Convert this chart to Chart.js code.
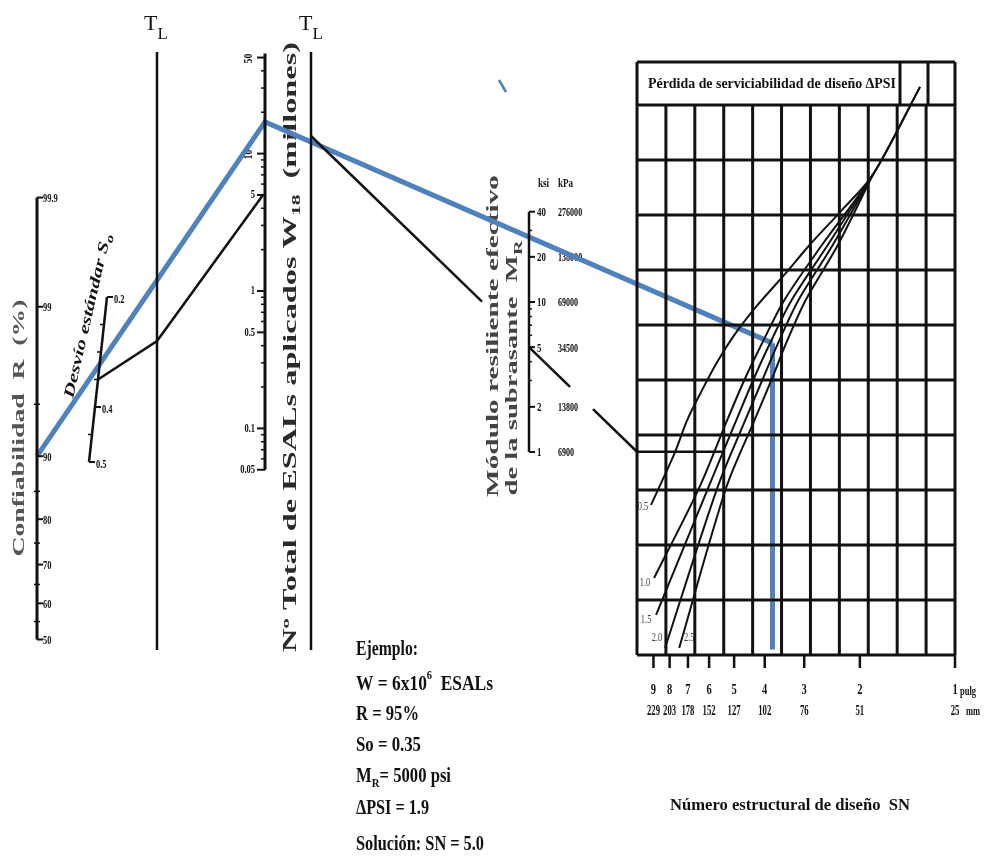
<!DOCTYPE html>
<html>
<head>
<meta charset="utf-8">
<title>Nomograma de diseño - pavimento flexible</title>
<script src="https://cdn.jsdelivr.net/npm/chart.js@4.4.1/dist/chart.umd.min.js"></script>
<style>
  html, body { margin: 0; padding: 0; background: #fff; }
  canvas { display: block; }
</style>
</head>
<body>
<canvas id="nomo" width="994" height="862"></canvas>
<script>
const relTicks = [99.9, 99, 90, 80, 70, 60, 50];
const relMinor = [95, 85, 75, 65, 55];
const sdTicks = [0.2, 0.4, 0.5];
const sdMinor = [0.25, 0.3, 0.35, 0.45];
const esalTicks = [50, 10, 5, 1, 0.5, 0.1, 0.05];
const esalMinor = [0.06, 0.07, 0.08, 0.09, 0.2, 0.3, 0.4, 0.6, 0.7, 0.8, 0.9, 2, 3, 4, 6, 7, 8, 9, 20, 30, 40];
const mrKsi = [40, 20, 10, 5, 2, 1];
const mrKpa = ['276000', '138000', '69000', '34500', '13800', '6900'];
const mrMinor = [30, 9, 8, 7, 6, 4, 3];
const snPulg = [9, 8, 7, 6, 5, 4, 3, 2, 1];
const snMm = ['229', '203', '178', '152', '127', '102', '76', '51', '25'];

// design-loss curves: SN value and height in grid rows (0 = bottom of chart)
const psiNames = ['0.5', '1.0', '1.5', '2.0', '2.5'];
const psiSN = [
  [9.16, 7.69, 7.04, 6.31, 5.65, 4.99, 4.22, 3.47, 2.89, 2.28, 1.82, 1.29],
  [8.96, 6.45, 5.26, 4.64, 4.10, 3.47, 2.64, 1.82, 1.29],
  [8.83, 6.04, 4.92, 4.35, 3.87, 3.29, 2.53, 1.82],
  [8.27, 5.65, 4.61, 4.07, 3.65, 3.13, 2.44, 1.82],
  [7.46, 5.30, 4.31, 3.81, 3.44, 2.97, 2.35, 1.82]
];
const psiRow = [
  [2.73, 3.69, 4.27, 4.82, 5.33, 5.82, 6.36, 6.91, 7.45, 8.09, 8.73, 10.33],
  [1.40, 3.04, 4.27, 5.0, 5.64, 6.45, 7.45, 8.73, 10.33],
  [0.73, 3.04, 4.27, 5.0, 5.64, 6.45, 7.45, 8.73],
  [0.13, 3.04, 4.27, 5.0, 5.64, 6.45, 7.45, 8.73],
  [0.13, 3.04, 4.27, 5.0, 5.64, 6.45, 7.45, 8.73]
];

// example drawn in black and the solution path drawn in blue
const exampleSo = 0.35;
const exampleW18 = 5;
const exampleMR = 5;
const exampleSN = 5.4;
const solutionR = 90;
const solutionW18 = 17;
const solutionSN = 3.78;
const solutionRow = 5.67;

// ---- geometry of the drawing ----
const W = 994, H = 862;
const L = {
  r: { x: 37, y0: 639.5, k: 143 },
  sd: { top: [107, 297], bottom: [89, 462] },
  tl: { x1: 157, x2: 311, top: 52, bottom: 650, pivot1: 341, pivot2: 136 },
  esal: { x: 265, y0: 291, k: 137.4 },
  mr: { x: 529, y0: 452, k: 150 },
  grid: { left: 637, right: 955, top: 62, head: 105, bottom: 655, cols: 11, rows: 10, headCols: [900, 928] },
  sn: { x0: 955, k: 316 },
  psiLabelOff: [[-8, 2], [-9, 5], [-10, 5], [-8, -10], [10, -10]],
  stray: [[499, 80], [506, 92]]
};
const INK = '#111';
const BLUE = '#4f81bd';
const SERIF = '"Liberation Serif", "DejaVu Serif", serif';

function probit(p) {
  const q = p < 0.5 ? p : 1 - p;
  const t = Math.sqrt(-2 * Math.log(q));
  const z = t - (2.515517 + 0.802853 * t + 0.010328 * t * t) /
    (1 + 1.432788 * t + 0.189269 * t * t + 0.001308 * t * t * t);
  return p < 0.5 ? -z : z;
}
const yR = v => L.r.y0 - L.r.k * probit(v / 100);
const sdPt = v => {
  const t = (v - 0.2) / 0.3;
  return [L.sd.top[0] + (L.sd.bottom[0] - L.sd.top[0]) * t, L.sd.top[1] + (L.sd.bottom[1] - L.sd.top[1]) * t];
};
const yW = v => L.esal.y0 - L.esal.k * Math.log10(v);
const yMR = v => L.mr.y0 - L.mr.k * Math.log10(v);
const xSN = v => L.sn.x0 - L.sn.k * Math.log10(v);
const yRow = r => L.grid.bottom - r * (L.grid.bottom - L.grid.head) / L.grid.rows;

// ---- datasets ----
const datasets = [];
function line(pts, color, width, extra) {
  datasets.push(Object.assign({
    data: pts.map(p => ({ x: p[0], y: p[1] })),
    showLine: true,
    borderColor: color,
    borderWidth: width,
    pointRadius: 0,
    tension: 0
  }, extra || {}));
}

// design grid
const g = L.grid;
const colW = (g.right - g.left) / g.cols;
for (let i = 0; i <= g.cols; i++) {
  const x = g.left + i * colW;
  const top = (i === 0 || i === g.cols) ? g.top : g.head;
  line([[x, top], [x, g.bottom]], INK, 3);
}
g.headCols.forEach(x => line([[x, g.top], [x, g.head]], INK, 3));
line([[g.left, g.top], [g.right, g.top]], INK, 3);
for (let r = 0; r <= g.rows; r++) {
  line([[g.left, yRow(r)], [g.right, yRow(r)]], INK, 3);
}
snPulg.forEach(v => line([[xSN(v), g.bottom], [xSN(v), g.bottom + 13]], INK, 2.5));

// PSI curves
psiSN.forEach((sns, i) => {
  line(sns.map((s, j) => [xSN(s), yRow(psiRow[i][j])]), INK, 2, { tension: 0.3 });
});

// reliability axis
line([[L.r.x, yR(99.9)], [L.r.x, yR(50)]], INK, 3);
relTicks.forEach(v => line([[L.r.x, yR(v)], [L.r.x + 6, yR(v)]], INK, 2));
relMinor.forEach(v => line([[L.r.x - 3, yR(v)], [L.r.x + 3, yR(v)]], INK, 1.5));

// standard deviation axis
line([sdPt(0.2), sdPt(0.5)], INK, 2.5);
sdTicks.forEach(v => { const p = sdPt(v); line([p, [p[0] + 6, p[1]]], INK, 2); });
sdMinor.forEach(v => { const p = sdPt(v); line([[p[0] - 4, p[1]], p], INK, 1.5); });

// turning lines
[L.tl.x1, L.tl.x2].forEach(x => line([[x, L.tl.top], [x, L.tl.bottom]], INK, 2.5));

// ESAL axis
line([[L.esal.x, yW(50) - 4], [L.esal.x, yW(0.05)]], INK, 3);
esalTicks.forEach(v => line([[L.esal.x - 8, yW(v)], [L.esal.x, yW(v)]], INK, 2));
esalMinor.forEach(v => line([[L.esal.x - 4, yW(v)], [L.esal.x, yW(v)]], INK, 1.5));

// resilient modulus axis
line([[L.mr.x, yMR(40)], [L.mr.x, yMR(1)]], INK, 2.5);
mrKsi.forEach(v => line([[L.mr.x, yMR(v)], [L.mr.x + 6, yMR(v)]], INK, 2));
mrMinor.forEach(v => line([[L.mr.x, yMR(v)], [L.mr.x + 3, yMR(v)]], INK, 1.5));

// example (black)
const tl1 = [L.tl.x1, L.tl.pivot1];
const tl2 = [L.tl.x2, L.tl.pivot2];
line([sdPt(exampleSo), tl1, [L.esal.x - 2, yW(exampleW18)]], INK, 2.5);
const mrP = [L.mr.x, yMR(exampleMR)];
const slope = (mrP[1] - tl2[1]) / (mrP[0] - tl2[0]);
const onMr = x => [x, tl2[1] + slope * (x - tl2[0])];
line([tl2, onMr(482)], INK, 2.5);
line([mrP, onMr(570)], INK, 2.5);
line([onMr(593), onMr(g.left)], INK, 2.5);
line([onMr(g.left), [xSN(exampleSN), onMr(g.left)[1]]], INK, 2.5);

// solution path (blue)
line([[L.r.x, yR(solutionR)], [L.esal.x, yW(solutionW18)], [xSN(solutionSN), yRow(solutionRow)]], BLUE, 5);
line([[xSN(solutionSN), yRow(solutionRow)], [xSN(solutionSN), yRow(0.1)]], BLUE, 5);
line(L.stray, BLUE, 2.5);

// ---- texts ----
const texts = [];
function label(parts, x, y, o) {
  texts.push(Object.assign({ parts: typeof parts === 'string' ? [[parts]] : parts, x, y }, o));
}

label([['T', 1], ['L', 0.78, 0.5]], 156, 24, { size: 22, weight: 'normal', align: 'center' });
label([['T', 1], ['L', 0.78, 0.5]], 311, 24, { size: 22, weight: 'normal', align: 'center' });

label('Confiabilidad  R  (%)', 20, 428, { size: 16, w: 257, rot: -90, align: 'center', color: '#555' });
relTicks.forEach(v => label(String(v), L.r.x + 6, yR(v) + 1, { size: 13, sx: 0.65 }));

label([['Desvío estándar S', 1], ['o', 0.7, 0.3]], 88, 316, { size: 15, w: 168, rot: -77, align: 'center', style: 'italic' });
sdTicks.forEach(v => { const p = sdPt(v); label(v.toFixed(1), p[0] + 7, p[1] + 3, { size: 13, sx: 0.65 }); });

esalTicks.forEach(v => {
  if (v >= 10) label(String(v), L.esal.x - 16, yW(v) + 1, { size: 13, sx: 0.75, rot: -90, align: 'center' });
  else label(String(v), L.esal.x - 10, yW(v), { size: 13, sx: 0.65, align: 'right' });
});
label([['Nº Total de ESALs aplicados W', 1], ['18', 0.65, 0.35], ['  (millones)', 1]], 291, 347,
  { size: 18, w: 610, rot: -90, align: 'center', color: '#2a2a2a' });

label('ksi', 538, 184, { size: 13, sx: 0.7 });
label('kPa', 558, 184, { size: 13, sx: 0.7 });
mrKsi.forEach((v, i) => {
  label(String(v), 537, yMR(v) + 1, { size: 13, sx: 0.68 });
  label(mrKpa[i], 558, yMR(v) + 1, { size: 13, sx: 0.62 });
});
label('Módulo resiliente efectivo', 494, 336, { size: 17, w: 322, rot: -90, align: 'center', color: '#444' });
label([['de la subrasante  M', 1], ['R', 0.7, 0.35]], 513, 368, { size: 17, w: 255, rot: -90, align: 'center', color: '#444' });

label('Pérdida de serviciabilidad de diseño ΔPSI', 772, 84, { size: 14, w: 248, align: 'center' });
psiNames.forEach((n, i) => {
  const x0 = xSN(psiSN[i][0]), y0 = yRow(psiRow[i][0]);
  label(n, x0 + L.psiLabelOff[i][0], y0 + L.psiLabelOff[i][1], { size: 12, sx: 0.7, weight: 'normal', color: '#444', align: 'center' });
});

snPulg.forEach((v, i) => {
  label(String(v), xSN(v), 690, { size: 15, sx: 0.7, align: 'center' });
  label(snMm[i], xSN(v), 711, { size: 14, sx: 0.62, align: 'center' });
});
label('pulg', 960, 692, { size: 13, sx: 0.65 });
label('mm', 966, 712, { size: 13, sx: 0.65 });
label('Número estructural de diseño  SN', 790, 806, { size: 17, w: 240, align: 'center' });

label('Ejemplo:', 356, 650, { size: 20, w: 62 });
label([['W = 6x10'], ['6', 0.6, -0.45], ['  ESALs']], 356, 685, { size: 20, w: 137 });
label('R = 95%', 356, 715, { size: 20, w: 63 });
label('So = 0.35', 356, 746, { size: 20, w: 65 });
label([['M'], ['R', 0.65, 0.35], ['= 5000 psi']], 356, 777, { size: 20, w: 95 });
label('ΔPSI = 1.9', 356, 809, { size: 20, w: 73 });
label('Solución: SN = 5.0', 356, 845, { size: 20, w: 128 });

function drawRich(ctx, t, x, y) {
  const size = t.size;
  const fontOf = m => `${t.style || ''} ${t.weight || 'bold'} ${Math.round(size * (m || 1))}px ${SERIF}`;
  ctx.save();
  ctx.translate(x, y);
  if (t.rot) ctx.rotate(t.rot * Math.PI / 180);
  let w = 0;
  t.parts.forEach(p => { ctx.font = fontOf(p[1]); w += ctx.measureText(p[0]).width; });
  const sx = t.w ? t.w / w : (t.sx || 1);
  ctx.scale(sx, 1);
  let cx = t.align === 'center' ? -w / 2 : t.align === 'right' ? -w : 0;
  ctx.fillStyle = t.color || INK;
  ctx.textBaseline = 'middle';
  ctx.textAlign = 'left';
  t.parts.forEach(p => {
    ctx.font = fontOf(p[1]);
    ctx.fillText(p[0], cx, (p[2] || 0) * size);
    cx += ctx.measureText(p[0]).width;
  });
  ctx.restore();
}

const paper = {
  id: 'paper',
  beforeDraw(chart) {
    const c = chart.ctx;
    c.save();
    c.fillStyle = '#fff';
    c.fillRect(0, 0, chart.width, chart.height);
    c.restore();
  },
  beforeDatasetsDraw(chart) {
    const sx = chart.scales.x, sy = chart.scales.y;
    texts.forEach(t => drawRich(chart.ctx, t, sx.getPixelForValue(t.x), sy.getPixelForValue(t.y)));
  }
};

new Chart(document.getElementById('nomo'), {
  type: 'scatter',
  data: { datasets },
  options: {
    responsive: false,
    animation: false,
    events: [],
    layout: { padding: 0 },
    scales: {
      x: { type: 'linear', min: 0, max: W, display: false },
      y: { type: 'linear', min: 0, max: H, reverse: true, display: false }
    },
    plugins: { legend: { display: false }, tooltip: { enabled: false } }
  },
  plugins: [paper]
});
</script>
</body>
</html>
